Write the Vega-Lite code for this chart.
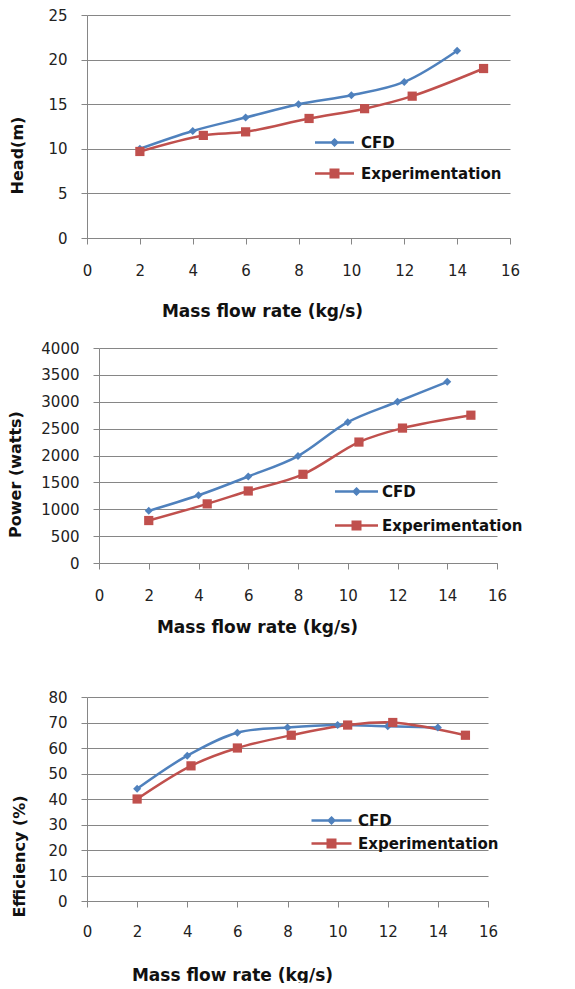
{
  "$schema": "https://vega.github.io/schema/vega-lite/v6.json",
  "padding": {"left": 7, "top": 8, "right": 0, "bottom": 0},
  "datasets": {
    "head": [
      {"series": "CFD", "x": 2, "y": 10}, {"series": "CFD", "x": 4, "y": 12}, {"series": "CFD", "x": 6, "y": 13.5},
      {"series": "CFD", "x": 8, "y": 15}, {"series": "CFD", "x": 10, "y": 16}, {"series": "CFD", "x": 12, "y": 17.5},
      {"series": "CFD", "x": 14, "y": 21},
      {"series": "Experimentation", "x": 2, "y": 9.7}, {"series": "Experimentation", "x": 4.4, "y": 11.5},
      {"series": "Experimentation", "x": 6, "y": 11.9}, {"series": "Experimentation", "x": 8.4, "y": 13.4},
      {"series": "Experimentation", "x": 10.5, "y": 14.5}, {"series": "Experimentation", "x": 12.3, "y": 15.9},
      {"series": "Experimentation", "x": 15, "y": 19}
    ],
    "power": [
      {"series": "CFD", "x": 2, "y": 970}, {"series": "CFD", "x": 4, "y": 1260}, {"series": "CFD", "x": 6, "y": 1610},
      {"series": "CFD", "x": 8, "y": 1990}, {"series": "CFD", "x": 10, "y": 2620}, {"series": "CFD", "x": 12, "y": 3000},
      {"series": "CFD", "x": 14, "y": 3370},
      {"series": "Experimentation", "x": 2, "y": 790}, {"series": "Experimentation", "x": 4.35, "y": 1100},
      {"series": "Experimentation", "x": 6, "y": 1340}, {"series": "Experimentation", "x": 8.2, "y": 1650},
      {"series": "Experimentation", "x": 10.45, "y": 2250}, {"series": "Experimentation", "x": 12.2, "y": 2510},
      {"series": "Experimentation", "x": 14.95, "y": 2750}
    ],
    "eff": [
      {"series": "CFD", "x": 2, "y": 44}, {"series": "CFD", "x": 4, "y": 57}, {"series": "CFD", "x": 6, "y": 66},
      {"series": "CFD", "x": 8, "y": 68}, {"series": "CFD", "x": 10, "y": 69}, {"series": "CFD", "x": 12, "y": 68.5},
      {"series": "CFD", "x": 14, "y": 68},
      {"series": "Experimentation", "x": 2, "y": 40}, {"series": "Experimentation", "x": 4.15, "y": 53},
      {"series": "Experimentation", "x": 6, "y": 60}, {"series": "Experimentation", "x": 8.15, "y": 65},
      {"series": "Experimentation", "x": 10.4, "y": 69}, {"series": "Experimentation", "x": 12.2, "y": 70},
      {"series": "Experimentation", "x": 15.1, "y": 65}
    ]
  },
  "concat": [
    {
      "columns": 1,
      "spacing": 22,
      "resolve": {"scale": {"color": "independent"}, "legend": {"color": "independent"}},
      "concat": [
        {
          "width": 423, "height": 223,
          "data": {"name": "head"},
          "encoding": {
            "x": {"field": "x", "type": "quantitative", "scale": {"domain": [0, 16], "nice": false},
                  "axis": {"title": "Mass flow rate  (kg/s)", "titleX": 175, "titlePadding": 25}},
            "y": {"field": "y", "type": "quantitative", "scale": {"domain": [0, 25], "nice": false},
                  "axis": {"title": "Head(m)", "values": [0, 5, 10, 15, 20, 25], "titleY": 140, "titlePadding": 22}},
            "color": {"field": "series", "type": "nominal",
                      "scale": {"domain": ["CFD", "Experimentation"], "range": ["#4F81BD", "#C0504D"]},
                      "legend": {"orient": "none", "legendX": 240, "legendY": 120, "title": null, "padding": 0,
                                 "symbolSize": 100, "labelOffset": 19, "rowPadding": 13,
                                 "encode": {"symbols": {"update": {
                                   "shape": {"signal": "datum.value === 'CFD' ? 'M-3.9,0H3.9M0,-0.55L0.55,0L0,0.55L-0.55,0Z' : 'M-3.9,0H3.9M-0.75,-0.75H0.75V0.75H-0.75Z'"},
                                   "fill": {"signal": "datum.value === 'CFD' ? '#4F81BD' : '#C0504D'"},
                                   "stroke": {"signal": "datum.value === 'CFD' ? '#4F81BD' : '#C0504D'"},
                                   "strokeWidth": {"value": 2.5}, "opacity": {"value": 1}}}}}}
          },
          "layer": [
            {"mark": {"type": "line", "interpolate": "catmull-rom", "strokeWidth": 2.5}},
            {"mark": {"type": "point", "filled": true, "opacity": 1},
             "encoding": {"shape": {"condition": {"test": "datum.series === 'CFD'", "value": "diamond"}, "value": "square"},
                          "size": {"condition": {"test": "datum.series === 'CFD'", "value": 64}, "value": 85}}}
          ]
        },
        {
          "width": 410, "height": 215,
          "data": {"name": "power"},
          "encoding": {
            "x": {"field": "x", "type": "quantitative", "scale": {"domain": [0, 16], "nice": false, "range": [12, 410]},
                  "axis": {"title": "Mass flow rate  (kg/s)", "titleX": 170, "titlePadding": 16}},
            "y": {"field": "y", "type": "quantitative", "scale": {"domain": [0, 4000], "nice": false},
                  "axis": {"title": "Power (watts)", "format": "d", "offset": -12, "values": [0, 500, 1000, 1500, 2000, 2500, 3000, 3500, 4000], "titleY": 126, "titlePadding": 17}},
            "color": {"field": "series", "type": "nominal",
                      "scale": {"domain": ["CFD", "Experimentation"], "range": ["#4F81BD", "#C0504D"]},
                      "legend": {"orient": "none", "legendX": 262, "legendY": 136, "title": null, "padding": 0,
                                 "symbolSize": 100, "labelOffset": 18, "rowPadding": 16,
                                 "encode": {"symbols": {"update": {
                                   "shape": {"signal": "datum.value === 'CFD' ? 'M-4.3,0H4.3M0,-0.55L0.55,0L0,0.55L-0.55,0Z' : 'M-4.3,0H4.3M-0.75,-0.75H0.75V0.75H-0.75Z'"},
                                   "fill": {"signal": "datum.value === 'CFD' ? '#4F81BD' : '#C0504D'"},
                                   "stroke": {"signal": "datum.value === 'CFD' ? '#4F81BD' : '#C0504D'"},
                                   "strokeWidth": {"value": 2.5}, "opacity": {"value": 1}}}}}}
          },
          "layer": [
            {"mark": {"type": "line", "interpolate": "catmull-rom", "strokeWidth": 2.5}},
            {"mark": {"type": "point", "filled": true, "opacity": 1},
             "encoding": {"shape": {"condition": {"test": "datum.series === 'CFD'", "value": "diamond"}, "value": "square"},
                          "size": {"condition": {"test": "datum.series === 'CFD'", "value": 64}, "value": 85}}}
          ]
        }
      ]
    },
    {
      "width": 401, "height": 204,
      "data": {"name": "eff"},
      "encoding": {
        "x": {"field": "x", "type": "quantitative", "scale": {"domain": [0, 16], "nice": false},
              "axis": {"title": "Mass flow rate  (kg/s)", "titleX": 145, "titlePadding": 28, "labelPadding": 17}},
        "y": {"field": "y", "type": "quantitative", "scale": {"domain": [0, 80], "nice": false},
              "axis": {"title": "Efficiency (%)", "values": [0, 10, 20, 30, 40, 50, 60, 70, 80], "titleY": 159, "titlePadding": 20}},
        "color": {"field": "series", "type": "nominal",
                  "scale": {"domain": ["CFD", "Experimentation"], "range": ["#4F81BD", "#C0504D"]},
                  "legend": {"orient": "none", "legendX": 237, "legendY": 116, "title": null, "padding": 0,
                             "symbolSize": 100, "labelOffset": 19, "rowPadding": 5,
                             "encode": {"symbols": {"update": {
                               "shape": {"signal": "datum.value === 'CFD' ? 'M-4,0H4M0,-0.55L0.55,0L0,0.55L-0.55,0Z' : 'M-4,0H4M-0.75,-0.75H0.75V0.75H-0.75Z'"},
                               "fill": {"signal": "datum.value === 'CFD' ? '#4F81BD' : '#C0504D'"},
                               "stroke": {"signal": "datum.value === 'CFD' ? '#4F81BD' : '#C0504D'"},
                               "strokeWidth": {"value": 2.5}, "opacity": {"value": 1}}}}}}
      },
      "layer": [
        {"mark": {"type": "line", "interpolate": "catmull-rom", "strokeWidth": 2.5}},
        {"mark": {"type": "point", "filled": true, "opacity": 1},
         "encoding": {"shape": {"condition": {"test": "datum.series === 'CFD'", "value": "diamond"}, "value": "square"},
                      "size": {"condition": {"test": "datum.series === 'CFD'", "value": 64}, "value": 85}}}
      ]
    }
  ],
  "columns": 1,
  "spacing": 55,
  "resolve": {"scale": {"color": "independent"}, "legend": {"color": "independent"}},
  "config": {
    "view": {"stroke": null},
    "font": "DejaVu Sans",
    "axis": {
      "domainColor": "#868686", "tickColor": "#868686", "gridColor": "#868686",
      "domainWidth": 1, "tickWidth": 1, "gridWidth": 1, "tickSize": 6,
      "labelFont": "DejaVu Sans", "labelFontSize": 15, "labelColor": "#222",
      "labelFlush": false, "labelOverlap": false,
      "titleFont": "DejaVu Sans", "titleFontWeight": "bold", "titleFontSize": 16, "titleColor": "#111"
    },
    "axisX": {"grid": false, "values": [0, 2, 4, 6, 8, 10, 12, 14, 16], "labelPadding": 19, "titleFontSize": 17},
    "axisY": {"grid": true, "labelPadding": 14},
    "legend": {"labelFont": "DejaVu Sans", "labelFontWeight": "bold", "labelFontSize": 15, "labelColor": "#111", "labelLimit": 300}
  }
}
